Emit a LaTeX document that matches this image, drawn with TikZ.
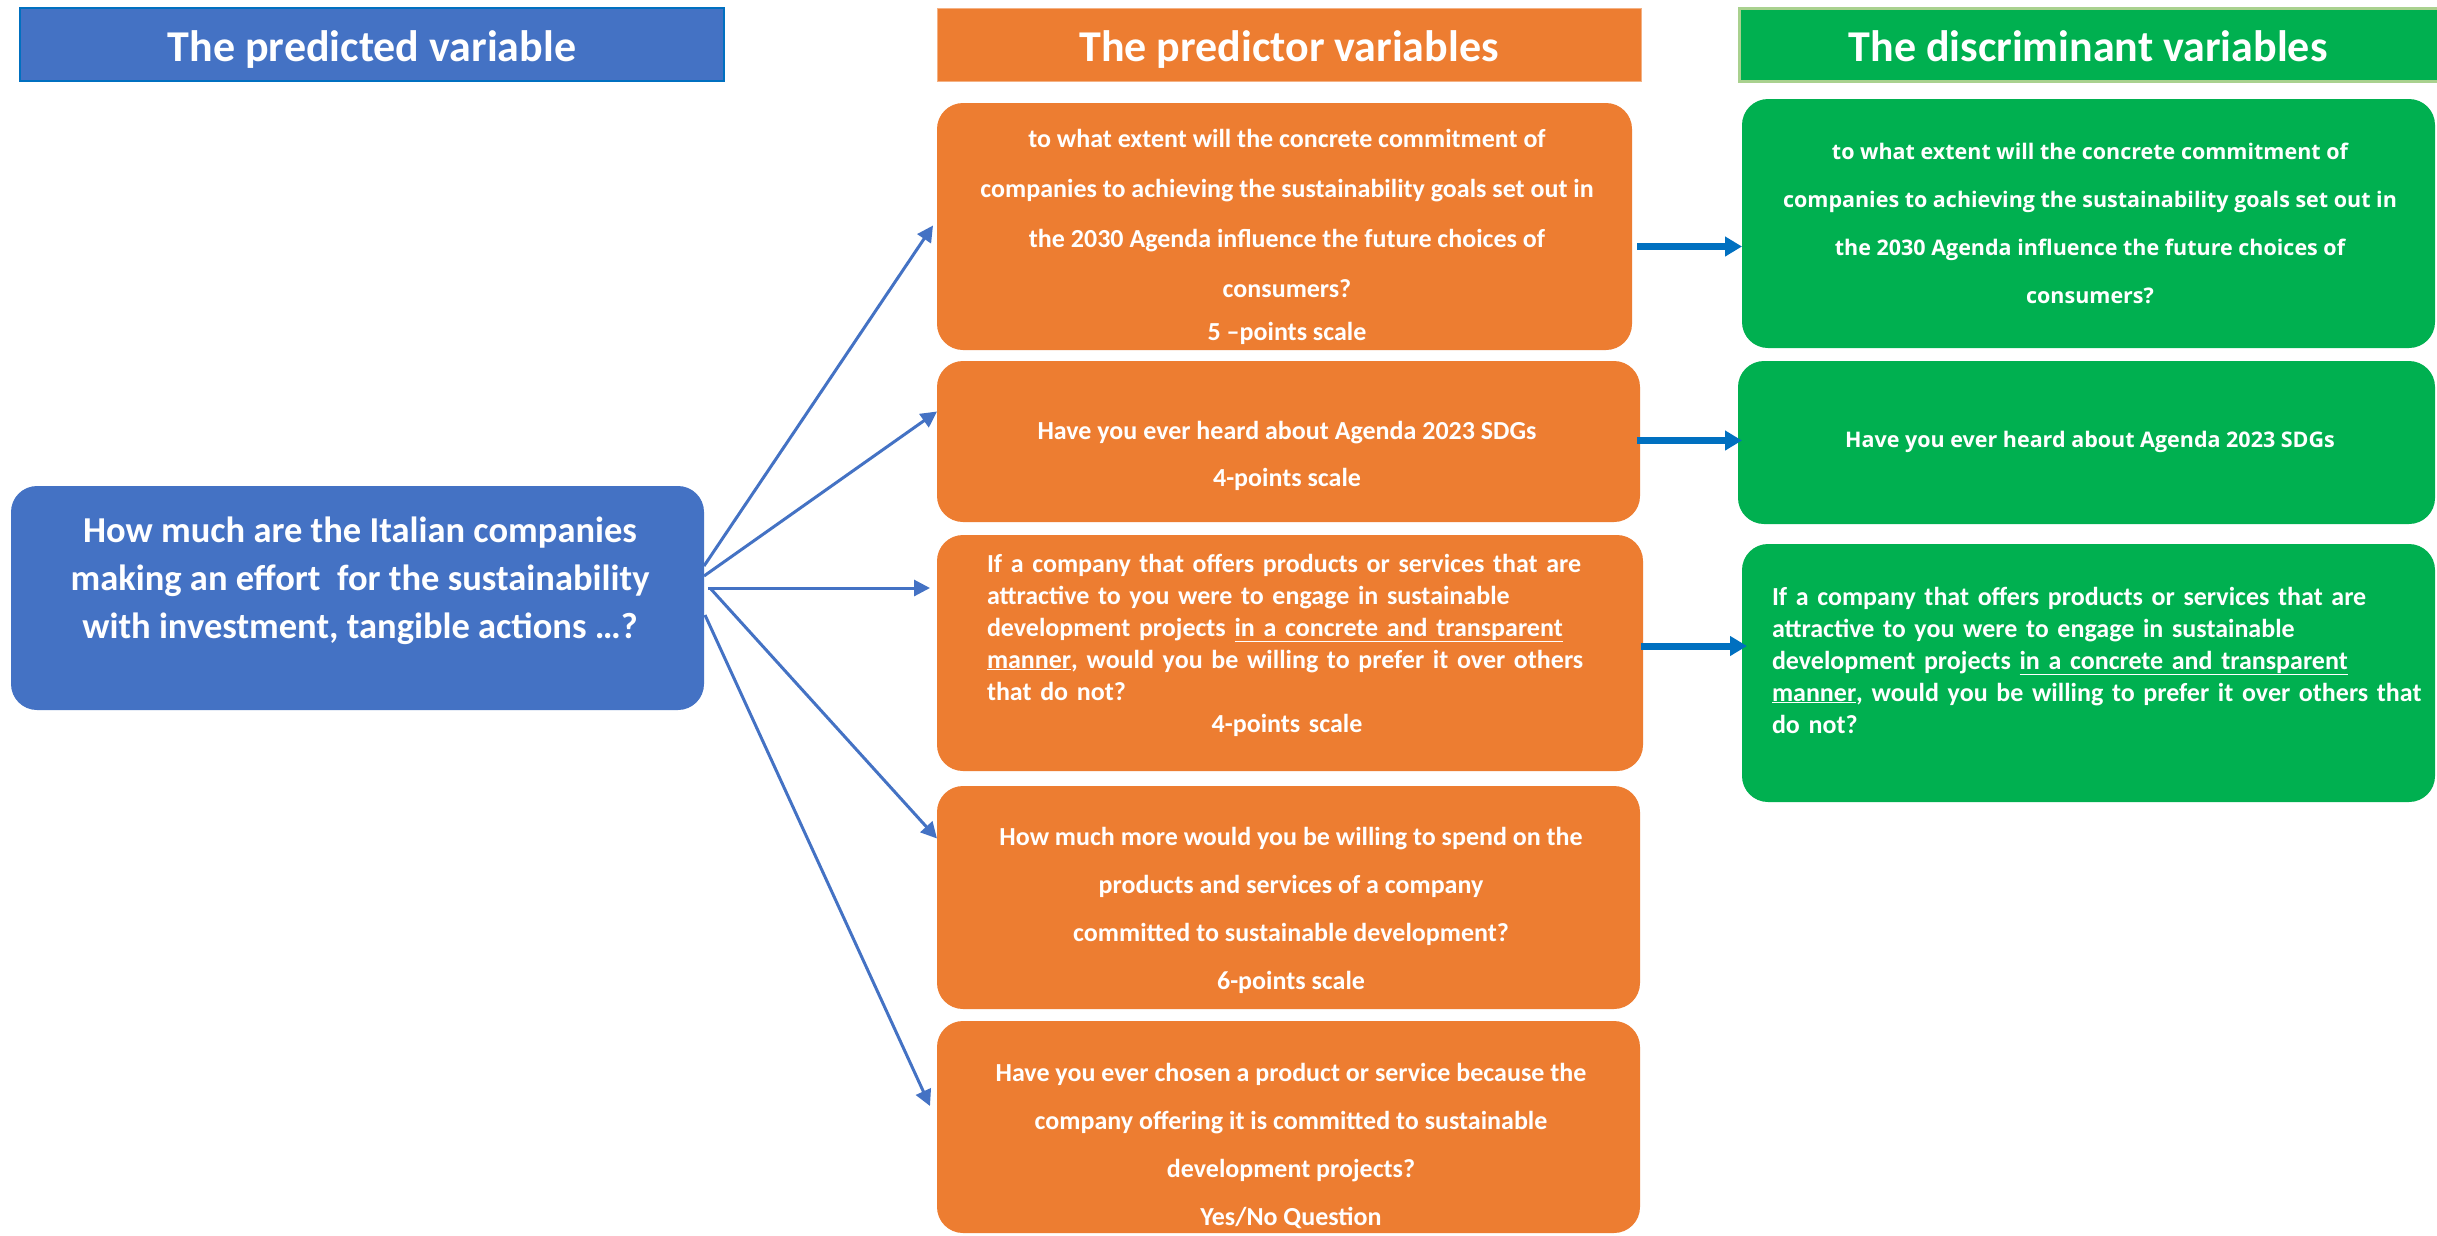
\documentclass[tikz,border=0pt]{standalone}
\usepackage{fontspec}
\setmainfont{Carlito}
\newfontfamily\osans{Open Sans}
\usetikzlibrary{arrows.meta,calc}
\definecolor{cblue}{HTML}{4472C4}
\definecolor{cblueline}{HTML}{0070C0}
\definecolor{corange}{HTML}{ED7D31}
\definecolor{corangeline}{HTML}{F4B183}
\definecolor{cgreen}{HTML}{00B050}
\definecolor{cgreenline}{HTML}{A9D18E}
\begin{document}
\begin{tikzpicture}[x=1pt,y=-1pt,
  box/.style={rounded corners=26pt, inner sep=0pt, outer sep=0pt, anchor=north west},
  hdr/.style={inner sep=0pt, outer sep=0pt, anchor=north west},
  txt/.style={text=white, inner sep=0pt, align=center},
  ltxt/.style={text=white, inner sep=0pt, align=left},
  hfont/.style={font=\fontsize{44}{50}\selectfont\bfseries},
  ofont/.style={font=\fontsize{26}{50}\selectfont\bfseries},
  o2font/.style={font=\fontsize{26}{48}\selectfont\bfseries},
  sfont/.style={font=\fontsize{26}{32}\selectfont\bfseries},
  gfont/.style={font=\osans\fontsize{21.5}{48}\selectfont\bfseries},
  larrow/.style={draw=cblue, line width=3pt, -{Triangle[length=16pt,width=16pt]}},
  rarrow/.style={draw=cblueline, line width=7pt, -{Triangle[length=17pt,width=19pt]}}]
\useasboundingbox[fill=white] (0,0) rectangle (2437,1235);

% headers
\node[hdr, fill=cblue, draw=cblueline, line width=2pt, minimum width=704pt, minimum height=73pt] (H1) at (20,8) {};
\node[hdr, fill=corange, draw=corangeline, line width=1pt, minimum width=704pt, minimum height=73pt] (H2) at (937,8) {};
\node[hdr, fill=cgreen, draw=cgreenline, line width=3pt, minimum width=700pt, minimum height=73pt] (H3) at (1739,8) {};
\node[txt, hfont, anchor=base] (H1t) at (372,61) {The predicted variable};
\node[txt, hfont, anchor=base] (H2t) at (1289,61) {The predictor variables};
\node[txt, hfont, anchor=base] (H3t) at (2088,61) {The discriminant variables};

% predicted variable box
\node[box, fill=cblue, minimum width=693pt, minimum height=224pt] (L) at (11,486) {};
\node[txt, font=\fontsize{36.5}{48}\selectfont\bfseries] (Lt) at (360,581)
  {How much are the Italian companies\\making an effort~ for the sustainability\\with investment, tangible actions …?};

% predictor boxes
\node[box, fill=corange, minimum width=695pt, minimum height=247pt] (O1) at (937,103) {};
\node[box, fill=corange, minimum width=703pt, minimum height=161pt] (O2) at (937,361) {};
\node[box, fill=corange, minimum width=706pt, minimum height=236pt] (O3) at (937,535) {};
\node[box, fill=corange, minimum width=703pt, minimum height=223pt] (O4) at (937,786) {};
\node[box, fill=corange, minimum width=703pt, minimum height=212pt] (O5) at (937,1021) {};

\node[txt, ofont] (O1t) at (1287,237)
  {to what extent will the concrete commitment of\\companies to achieving the sustainability goals set out in\\the 2030 Agenda influence the future choices of\\consumers?\\[-7pt]5 –points scale};
\node[txt, ofont] (O2t) at (1287,456)
  {Have you ever heard about Agenda 2023 SDGs\\[-3pt]4-points scale};
\node[ltxt, sfont, text width=600pt] (O3t) at (1287,645)
  {If a company that offers products or services that are\\attractive to you were to engage in sustainable\\development projects \underline{in a concrete and transparent}\\\underline{manner}, would you be willing to prefer it over others\\that do not?\\\makebox[\linewidth][c]{4-points scale}};
\node[txt, o2font] (O4t) at (1291,910)
  {How much more would you be willing to spend on the\\products and services of a company\\committed to sustainable development?\\6-points scale};
\node[txt, o2font] (O5t) at (1291,1146)
  {Have you ever chosen a product or service because the\\company offering it is committed to sustainable\\development projects?\\Yes/No Question};

% discriminant boxes
\node[box, fill=cgreen, minimum width=693pt, minimum height=249pt] (G1) at (1742,99) {};
\node[box, fill=cgreen, minimum width=697pt, minimum height=163pt] (G2) at (1738,361) {};
\node[box, fill=cgreen, minimum width=693pt, minimum height=258pt] (G3) at (1742,544) {};

\node[txt, gfont] (G1t) at (2090,223)
  {to what extent will the concrete commitment of\\companies to achieving the sustainability goals set out in\\the 2030 Agenda influence the future choices of\\consumers?};
\node[txt, gfont] (G2t) at (2090,442) {Have you ever heard about Agenda 2023 SDGs};
\node[ltxt, sfont, text width=680pt] (G3t) at (2112,660)
  {If a company that offers products or services that are\\attractive to you were to engage in sustainable\\development projects \underline{in a concrete and transparent}\\\underline{manner}, would you be willing to prefer it over others that\\do not?};

% connectors
\draw[larrow] ($(L.east)+(0,-32)$) -- ($(O1.west)+(-4,-1)$);
\draw[larrow] ($(L.east)+(0,-22)$) -- ($(O2.west)+(0,-30)$);
\draw[larrow] ($(L.east)+(4,-10)$) -- ($(O3.west)+(-7,-65)$);
\draw[larrow] ($(L.east)+(6,-10)$) -- ($(O4.west)+(0,-59)$);
\draw[larrow] ($(L.east)+(1,17)$) -- ($(O5.west)+(-7,-21)$);

\draw[rarrow] ($(O1.east)+(5,20)$) -- ($(G1.west)+(0,23)$);
\draw[rarrow] ($(O2.east)+(-3,-1)$) -- ($(G2.west)+(4,-2)$);
\draw[rarrow] ($(O3.east)+(-2,-7)$) -- ($(G3.west)+(5,-27)$);
\end{tikzpicture}
\end{document}
